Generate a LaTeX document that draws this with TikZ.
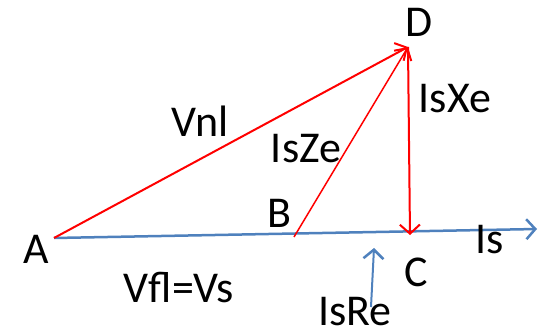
\documentclass[tikz,border=0pt]{standalone}
\usepackage{fontspec}
\setmainfont{Carlito}
\usetikzlibrary{arrows.meta}
\definecolor{ofblue}{RGB}{79,129,189}
\begin{document}
\begin{tikzpicture}[x=1pt,y=-1pt,
  lbl/.style={anchor=base,inner sep=0pt,font=\fontsize{44}{48}\selectfont},
  redvec/.style={draw=red,line width=2pt,-{Straight Barb[length=9pt,width=20pt,line width=2pt]}},
  bluevec/.style={draw=ofblue,line width=2.5pt,-{Straight Barb[length=9pt,width=20pt,line width=2.5pt]}}]
\useasboundingbox (0,0) rectangle (550,329);
\coordinate (A) at (54,238);
\coordinate (E) at (537,229);
\coordinate (D) at (408,47);
\coordinate (B) at (294,237);
\coordinate (C) at (410,235);
\coordinate (R1) at (371,307);
\coordinate (R2) at (374,248);
\draw[bluevec] (A) -- (E);
\draw[redvec] (A) -- (D);
\draw[redvec,line width=1.5pt] (B) -- (D);
\draw[redvec] (D) -- (C);
\draw[bluevec,line width=2pt] (R1) -- (R2);
\node[lbl] (lA) at (36,263) {A};
\node[lbl] (lD) at (419,37) {D};
\node[lbl] (lB) at (279,228) {B};
\node[lbl] (lC) at (416,287) {C};
\node[lbl] (lVnl) at (200,137) {Vnl};
\node[lbl] (lIsZe) at (306,163) {IsZe};
\node[lbl] (lIsXe) at (455,113) {IsXe};
\node[lbl] (lIs) at (490,253) {Is};
\node[lbl] (lVfl) at (179,302) {Vfl=Vs};
\node[lbl] (lIsRe) at (355,325) {IsRe};
\end{tikzpicture}
\end{document}
